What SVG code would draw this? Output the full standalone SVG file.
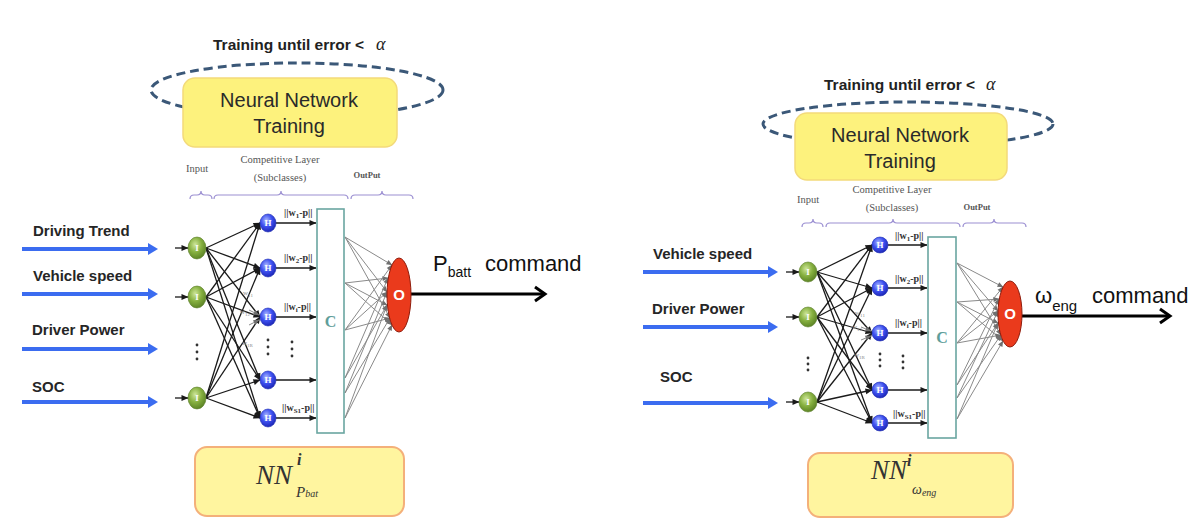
<svg xmlns="http://www.w3.org/2000/svg" width="1202" height="523" viewBox="0 0 1202 523">
<style>
.ttl{font-family:"Liberation Sans",sans-serif;font-weight:bold;font-size:15.5px;fill:#222}
.alpha{font-family:"Liberation Serif",serif;font-style:italic;font-size:18px;fill:#222}
.loop{fill:none;stroke:#3b5878;stroke-width:3;stroke-dasharray:9 5}
.tbox{fill:#fdf27d;stroke:#f3da7a;stroke-width:1.5}
.bbox{fill:#fff59f;stroke:#f4b07a;stroke-width:2}
.big{font-family:"Liberation Sans",sans-serif;font-size:20px;fill:#2a2a2a;text-anchor:middle}
.sm{font-family:"Liberation Serif",serif;font-size:10.5px;fill:#555;text-anchor:middle}
.smb{font-family:"Liberation Serif",serif;font-size:8.5px;font-weight:bold;fill:#555;text-anchor:middle}
.brace{fill:none;stroke:#9b8fd2;stroke-width:1.2}
.in{font-family:"Liberation Sans",sans-serif;font-weight:bold;font-size:15px;fill:#262626}
.blue{stroke:#3b6cf0;stroke-width:4;fill:none;marker-end:url(#bh)}
.net{stroke:#1a1a1a;stroke-width:1.3;fill:none;marker-end:url(#ah)}
.gry{stroke:#8a8a8a;stroke-width:1;fill:none;marker-end:url(#gh)}
.out{stroke:#000;stroke-width:3;fill:none}
.inode{fill:url(#gI);stroke:#5a7d2a;stroke-width:.6}
.hnode{fill:url(#gH);stroke:#1a2ab0;stroke-width:.6}
.ntx{font-family:"Liberation Serif",serif;font-weight:bold;font-size:9px;fill:#fff;text-anchor:middle}
.wl{font-family:"Liberation Serif",serif;font-weight:bold;font-size:10px;fill:#333}
.ws{font-family:"Liberation Serif",serif;font-size:7px;fill:#888}
.crect{fill:#fff;stroke:#6aa6a1;stroke-width:1.6}
.ctx{font-family:"Liberation Serif",serif;font-weight:bold;font-size:16px;fill:#5f9e9a;text-anchor:middle}
.onode{fill:#ea3a1c;stroke:#8e1b0b;stroke-width:1}
.otx{font-family:"Liberation Sans",sans-serif;font-weight:bold;font-size:15px;fill:#fff;text-anchor:middle}
.cmd{font-family:"Liberation Sans",sans-serif;font-size:22px;fill:#111}
.nn{font-family:"Liberation Serif",serif;font-style:italic;fill:#333}
.dot{fill:#333}
</style>
<defs>
<radialGradient id="gI" cx="0.4" cy="0.35" r="0.7"><stop offset="0" stop-color="#cfe69a"/><stop offset="0.5" stop-color="#86b040"/><stop offset="1" stop-color="#577e22"/></radialGradient>
<radialGradient id="gH" cx="0.4" cy="0.35" r="0.7"><stop offset="0" stop-color="#aab8ff"/><stop offset="0.5" stop-color="#3d50f0"/><stop offset="1" stop-color="#1a22b0"/></radialGradient>
<marker id="bh" markerUnits="userSpaceOnUse" markerWidth="12" markerHeight="12" refX="1" refY="6" orient="auto" overflow="visible"><path d="M0,0 L10,6 L0,12 z" fill="#3b6cf0"/></marker>
<marker id="ah" markerUnits="userSpaceOnUse" markerWidth="8" markerHeight="6" refX="6.5" refY="3" orient="auto" overflow="visible"><path d="M0,0 L7,3 L0,6 z" fill="#1a1a1a"/></marker>
<marker id="gh" markerUnits="userSpaceOnUse" markerWidth="7" markerHeight="5" refX="5.5" refY="2.5" orient="auto" overflow="visible"><path d="M0,0 L6,2.5 L0,5 z" fill="#6f6f6f"/></marker>
</defs>
<rect x="0" y="0" width="1202" height="523" fill="#fff"/>

<!-- ================= LEFT PANEL ================= -->
<g id="L-loop">
<text class="ttl" x="213" y="50">Training until  error &lt;</text>
<text class="alpha" x="376" y="50">α</text>
<ellipse class="loop" cx="297" cy="90" rx="146" ry="27"/>
</g>
<g id="L-training">
<rect class="tbox" x="183" y="78" width="214" height="69" rx="12"/>
<text class="big" x="289" y="107">Neural Network</text>
<text class="big" x="289" y="133">Training</text>
</g>
<g id="L-layers">
<text class="sm" x="197" y="172">Input</text>
<text class="sm" x="280" y="163">Competitive Layer</text>
<text class="sm" x="280" y="181">(Subclasses)</text>
<text class="smb" x="367" y="178">OutPut</text>
<path class="brace" d="M190,199 Q190,195 194,195 L197,195 Q201,195 201,191 Q201,195 205,195 L208,195 Q212,195 212,199"/>
<path class="brace" d="M214,199 Q214,195 218,195 L277,195 Q281,195 281,191 Q281,195 285,195 L344,195 Q348,195 348,199"/>
<path class="brace" d="M351,199 Q351,195 355,195 L378,195 Q382,195 382,191 Q382,195 386,195 L409,195 Q413,195 413,199"/>
</g>
<g id="L-inputs">
<text class="in" x="33" y="236">Driving Trend</text>
<text class="in" x="33" y="281">Vehicle speed</text>
<text class="in" x="32" y="335">Driver Power</text>
<text class="in" x="32" y="392">SOC</text>
</g>
<g id="L-connectors">
<path class="blue" d="M22,249 L149,249"/>
<path class="blue" d="M22,294 L149,294"/>
<path class="blue" d="M22,349 L149,349"/>
<path class="blue" d="M22,402 L149,402"/>
<path class="net" d="M175,248 L188,248"/>
<path class="net" d="M175,297 L188,297"/>
<path class="net" d="M175,398 L188,398"/>
<path class="net" d="M206,248 L260,223"/>
<path class="net" d="M206,248 L260,268"/>
<path class="net" d="M206,248 L260,317"/>
<path class="net" d="M206,248 L260,380"/>
<path class="net" d="M206,248 L260,418"/>
<path class="net" d="M206,297 L260,223"/>
<path class="net" d="M206,297 L260,268"/>
<path class="net" d="M206,297 L260,317"/>
<path class="net" d="M206,297 L260,380"/>
<path class="net" d="M206,297 L260,418"/>
<path class="net" d="M206,398 L260,223"/>
<path class="net" d="M206,398 L260,268"/>
<path class="net" d="M206,398 L260,317"/>
<path class="net" d="M206,398 L260,380"/>
<path class="net" d="M206,398 L260,418"/>
<path class="gry" d="M249,310 L259,315"/>
<path class="gry" d="M249,325 L259,320"/>
<path class="net" d="M276,223 L316,223"/>
<path class="net" d="M276,268 L316,268"/>
<path class="net" d="M276,317 L316,317"/>
<path class="net" d="M276,380 L316,380"/>
<path class="net" d="M276,418 L316,418"/>
<path class="gry" d="M345,237 L392,265"/>
<path class="gry" d="M345,237 L387,292"/>
<path class="gry" d="M345,237 L390,318"/>
<path class="gry" d="M345,283 L388,278"/>
<path class="gry" d="M345,283 L387,305"/>
<path class="gry" d="M345,283 L392,325"/>
<path class="gry" d="M345,330 L392,265"/>
<path class="gry" d="M345,330 L387,292"/>
<path class="gry" d="M345,330 L390,318"/>
<path class="gry" d="M345,378 L388,278"/>
<path class="gry" d="M345,378 L387,305"/>
<path class="gry" d="M345,393 L387,292"/>
<path class="gry" d="M345,393 L390,318"/>
<path class="gry" d="M345,418 L387,305"/>
<path class="gry" d="M345,418 L392,325"/>
<path class="out" d="M411,294 L543,294"/>
<polyline class="out" points="535,287 545,294 535,301"/>
</g>
<g id="L-weights">
<text class="wl" x="284" y="216">||w<tspan font-size="7" dy="2">1</tspan><tspan dy="-2">-p||</tspan></text>
<text class="wl" x="284" y="261">||w<tspan font-size="7" dy="2">2</tspan><tspan dy="-2">-p||</tspan></text>
<text class="wl" x="284" y="310">||w<tspan font-size="7" dy="2">i</tspan><tspan dy="-2">-p||</tspan></text>
<text class="wl" x="282" y="411">||w<tspan font-size="7" dy="2">S1</tspan><tspan dy="-2">-p||</tspan></text>
<text class="ws" x="243" y="295">w<tspan font-size="5" dy="1.5">11</tspan></text>
<text class="ws" x="240" y="314">w<tspan font-size="5" dy="1.5">12</tspan></text>
<text class="ws" x="242" y="345">w<tspan font-size="5" dy="1.5">1R</tspan></text>
<circle class="dot" cx="197" cy="345" r="1.4"/><circle class="dot" cx="197" cy="352" r="1.4"/><circle class="dot" cx="197" cy="359" r="1.4"/>
<circle class="dot" cx="268" cy="340" r="1.4"/><circle class="dot" cx="268" cy="347" r="1.4"/><circle class="dot" cx="268" cy="354" r="1.4"/>
<circle class="dot" cx="292" cy="342" r="1.4"/><circle class="dot" cx="292" cy="349" r="1.4"/><circle class="dot" cx="292" cy="356" r="1.4"/>
</g>
<g id="L-I1"><ellipse class="inode" cx="197" cy="248" rx="9" ry="11"/><text class="ntx" x="197" y="251">I</text></g>
<g id="L-I2"><ellipse class="inode" cx="197" cy="297" rx="9" ry="11"/><text class="ntx" x="197" y="300">I</text></g>
<g id="L-I3"><ellipse class="inode" cx="197" cy="398" rx="9" ry="11"/><text class="ntx" x="197" y="401">I</text></g>
<g id="L-H1"><ellipse class="hnode" cx="268" cy="223" rx="8" ry="9"/><text class="ntx" x="268" y="226">H</text></g>
<g id="L-H2"><ellipse class="hnode" cx="268" cy="268" rx="8" ry="9"/><text class="ntx" x="268" y="271">H</text></g>
<g id="L-H3"><ellipse class="hnode" cx="268" cy="317" rx="8" ry="9"/><text class="ntx" x="268" y="320">H</text></g>
<g id="L-H4"><ellipse class="hnode" cx="268" cy="380" rx="8" ry="9"/><text class="ntx" x="268" y="383">H</text></g>
<g id="L-H5"><ellipse class="hnode" cx="268" cy="418" rx="8" ry="9"/><text class="ntx" x="268" y="421">H</text></g>
<g id="L-C"><rect class="crect" x="317" y="209" width="27" height="224"/><text class="ctx" x="330.5" y="327">C</text></g>
<g id="L-O"><ellipse class="onode" cx="399" cy="295" rx="12" ry="37"/><text class="otx" x="399" y="300">O</text></g>
<g id="L-command"><text class="cmd" x="433" y="271">P<tspan font-size="14" dy="6">batt</tspan><tspan dy="-6" x="485">command</tspan></text></g>
<g id="L-result">
<rect class="bbox" x="195" y="447" width="209" height="69" rx="12"/>
<text class="nn" x="256" y="484" font-size="27">NN</text>
<text class="nn" x="297" y="465" font-size="16" font-weight="bold">i</text>
<text class="nn" x="296" y="497" font-size="15">P<tspan font-size="10">bat</tspan></text>
</g>

<!-- ================= RIGHT PANEL ================= -->
<g id="R-loop">
<text class="ttl" x="824" y="90">Training until  error &lt;</text>
<text class="alpha" x="986" y="90">α</text>
<ellipse class="loop" cx="908" cy="124" rx="145" ry="22"/>
</g>
<g id="R-training">
<rect class="tbox" x="795" y="113" width="212" height="67" rx="12"/>
<text class="big" x="900" y="142">Neural Network</text>
<text class="big" x="900" y="168">Training</text>
</g>
<g id="R-layers">
<text class="sm" x="808" y="203">Input</text>
<text class="sm" x="892" y="193">Competitive Layer</text>
<text class="sm" x="892" y="211">(Subclasses)</text>
<text class="smb" x="977" y="210">OutPut</text>
<path class="brace" d="M802,227 Q802,223 806,223 L809,223 Q813,223 813,219 Q813,223 817,223 L819,223 Q823,223 823,227"/>
<path class="brace" d="M826,227 Q826,223 830,223 L889,223 Q893,223 893,219 Q893,223 897,223 L956,223 Q960,223 960,227"/>
<path class="brace" d="M963,227 Q963,223 967,223 L990,223 Q994,223 994,219 Q994,223 998,223 L1022,223 Q1026,223 1026,227"/>
</g>
<g id="R-inputs">
<text class="in" x="653" y="259">Vehicle speed</text>
<text class="in" x="652" y="314">Driver Power</text>
<text class="in" x="660" y="382">SOC</text>
</g>
<g id="R-connectors">
<path class="blue" d="M643,272 L769,272"/>
<path class="blue" d="M643,327 L769,327"/>
<path class="blue" d="M643,403 L769,403"/>
<path class="net" d="M786,272 L799,272"/>
<path class="net" d="M786,317 L799,317"/>
<path class="net" d="M786,402 L799,402"/>
<path class="net" d="M817,272 L872,245"/>
<path class="net" d="M817,272 L872,288"/>
<path class="net" d="M817,272 L872,333"/>
<path class="net" d="M817,272 L872,390"/>
<path class="net" d="M817,272 L872,423"/>
<path class="net" d="M817,317 L872,245"/>
<path class="net" d="M817,317 L872,288"/>
<path class="net" d="M817,317 L872,333"/>
<path class="net" d="M817,317 L872,390"/>
<path class="net" d="M817,317 L872,423"/>
<path class="net" d="M817,402 L872,245"/>
<path class="net" d="M817,402 L872,288"/>
<path class="net" d="M817,402 L872,333"/>
<path class="net" d="M817,402 L872,390"/>
<path class="net" d="M817,402 L872,423"/>
<path class="gry" d="M861,327 L871,331"/>
<path class="gry" d="M861,340 L871,336"/>
<path class="net" d="M888,245 L927,245"/>
<path class="net" d="M888,288 L927,288"/>
<path class="net" d="M888,333 L927,333"/>
<path class="net" d="M888,390 L927,390"/>
<path class="net" d="M888,423 L927,423"/>
<path class="gry" d="M957,263 L1003,287"/>
<path class="gry" d="M957,263 L998,311"/>
<path class="gry" d="M957,263 L1001,335"/>
<path class="gry" d="M957,302 L999,299"/>
<path class="gry" d="M957,302 L998,323"/>
<path class="gry" d="M957,302 L1003,341"/>
<path class="gry" d="M957,343 L1003,287"/>
<path class="gry" d="M957,343 L998,311"/>
<path class="gry" d="M957,343 L1001,335"/>
<path class="gry" d="M957,385 L999,299"/>
<path class="gry" d="M957,385 L998,323"/>
<path class="gry" d="M957,398 L998,311"/>
<path class="gry" d="M957,398 L1001,335"/>
<path class="gry" d="M957,419 L998,323"/>
<path class="gry" d="M957,419 L1003,341"/>
<path class="out" d="M1022,316 L1168,316"/>
<polyline class="out" points="1160,309 1170,316 1160,323"/>
</g>
<g id="R-weights">
<text class="wl" x="895" y="239">||w<tspan font-size="7" dy="2">1</tspan><tspan dy="-2">-p||</tspan></text>
<text class="wl" x="895" y="282">||w<tspan font-size="7" dy="2">2</tspan><tspan dy="-2">-p||</tspan></text>
<text class="wl" x="895" y="326">||w<tspan font-size="7" dy="2">i</tspan><tspan dy="-2">-p||</tspan></text>
<text class="wl" x="893" y="417">||w<tspan font-size="7" dy="2">S1</tspan><tspan dy="-2">-p||</tspan></text>
<text class="ws" x="855" y="315">w<tspan font-size="5" dy="1.5">11</tspan></text>
<text class="ws" x="852" y="329">w<tspan font-size="5" dy="1.5">12</tspan></text>
<text class="ws" x="854" y="357">w<tspan font-size="5" dy="1.5">1R</tspan></text>
<circle class="dot" cx="808" cy="358" r="1.4"/><circle class="dot" cx="808" cy="364" r="1.4"/><circle class="dot" cx="808" cy="370" r="1.4"/>
<circle class="dot" cx="880" cy="354" r="1.4"/><circle class="dot" cx="880" cy="360" r="1.4"/><circle class="dot" cx="880" cy="366" r="1.4"/>
<circle class="dot" cx="903" cy="356" r="1.4"/><circle class="dot" cx="903" cy="362" r="1.4"/><circle class="dot" cx="903" cy="368" r="1.4"/>
</g>
<g id="R-I1"><ellipse class="inode" cx="808" cy="272" rx="9" ry="10"/><text class="ntx" x="808" y="275">I</text></g>
<g id="R-I2"><ellipse class="inode" cx="808" cy="317" rx="9" ry="10"/><text class="ntx" x="808" y="320">I</text></g>
<g id="R-I3"><ellipse class="inode" cx="808" cy="402" rx="9" ry="10"/><text class="ntx" x="808" y="405">I</text></g>
<g id="R-H1"><ellipse class="hnode" cx="880" cy="245" rx="8" ry="8"/><text class="ntx" x="880" y="248">H</text></g>
<g id="R-H2"><ellipse class="hnode" cx="880" cy="288" rx="8" ry="8"/><text class="ntx" x="880" y="291">H</text></g>
<g id="R-H3"><ellipse class="hnode" cx="880" cy="333" rx="8" ry="8"/><text class="ntx" x="880" y="336">H</text></g>
<g id="R-H4"><ellipse class="hnode" cx="880" cy="390" rx="8" ry="8"/><text class="ntx" x="880" y="393">H</text></g>
<g id="R-H5"><ellipse class="hnode" cx="880" cy="423" rx="8" ry="8"/><text class="ntx" x="880" y="426">H</text></g>
<g id="R-C"><rect class="crect" x="928" y="237" width="28" height="201"/><text class="ctx" x="942" y="343">C</text></g>
<g id="R-O"><ellipse class="onode" cx="1010" cy="314" rx="12" ry="33"/><text class="otx" x="1010" y="319">O</text></g>
<g id="R-command"><text class="cmd" x="1035" y="303" font-size="23">ω<tspan font-size="15" dy="8">eng</tspan><tspan dy="-8" x="1092">command</tspan></text></g>
<g id="R-result">
<rect class="bbox" x="808" y="453" width="205" height="64" rx="12"/>
<text class="nn" x="871" y="479" font-size="27">NN</text>
<text class="nn" x="907" y="466" font-size="16" font-weight="bold">i</text>
<text class="nn" x="912" y="494" font-size="14">ω<tspan font-size="10" dy="2">eng</tspan></text>
</g>
</svg>
